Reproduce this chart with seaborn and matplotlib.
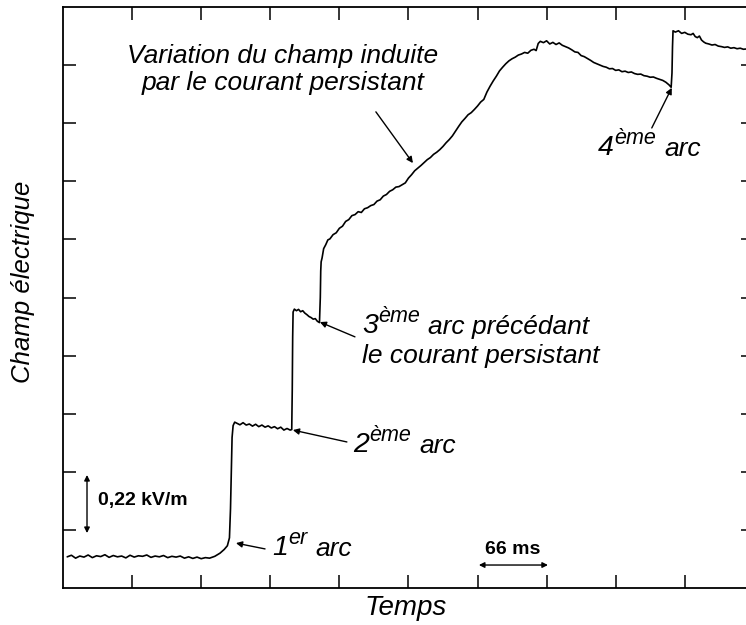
import matplotlib
matplotlib.use("Agg")
import matplotlib.pyplot as plt
import seaborn as sns
import numpy as np
import pandas as pd

# Enregistrement du champ électrique (temps en ms, champ en kV/m)
temps_ms = [
    4, 8, 12, 16, 20, 24, 28, 32, 36, 40, 44, 48, 52, 56, 60, 64, 68, 72, 76, 80,
    84, 88, 92, 96, 100, 104, 108, 112, 116, 120, 124, 128, 132, 136, 140,
    145, 150, 154, 157, 159, 160, 160.8, 161.5, 162.5, 164,
    166, 169, 172, 175, 178, 181, 184, 187, 190, 193, 196, 199, 202, 205, 208,
    211, 214, 217, 218.5,
    219, 219.4, 219.8, 221, 223, 225, 227, 229, 231, 233, 235, 237, 239, 241,
    243, 245,
    245.8, 246.2, 246.6, 247.5, 249, 251, 253, 255, 258, 261, 264, 267, 270,
    273, 276, 279, 282, 285, 288, 291, 294, 297, 300, 303, 306, 309, 312, 315,
    318, 321, 324, 327, 330, 333, 336, 339, 342, 345, 348, 351, 354, 357, 360,
    363, 366, 369, 372, 375, 378, 381, 384, 387, 390, 393, 396, 399, 402, 405,
    408, 411, 414, 417, 420, 423, 426, 429, 432, 435, 438, 441, 444, 447, 450,
    452, 454, 456, 459, 462, 465, 468, 471, 474, 477, 480, 483, 486, 489, 492,
    495, 498, 501, 504, 507, 510, 513, 516, 519, 522, 525, 528, 531, 534, 537,
    540, 543, 546, 549, 552, 555, 558, 561, 564, 567, 570, 573, 576, 579, 581,
    581.8, 582.3, 582.8, 585, 588, 591, 594, 597, 600, 602, 604, 606, 608, 610,
    612, 614, 617, 620, 623, 626, 629, 632, 635, 638, 641, 644, 647, 650, 653,
]
champ_kvm = [
    0.118, 0.124, 0.113, 0.121, 0.117, 0.125, 0.115, 0.122, 0.119, 0.126,
    0.116, 0.123, 0.118, 0.121, 0.114, 0.124, 0.117, 0.122, 0.120, 0.125,
    0.116, 0.121, 0.118, 0.123, 0.115, 0.120, 0.117, 0.121, 0.113, 0.118,
    0.112, 0.117, 0.111, 0.115, 0.113,
    0.120, 0.132, 0.146, 0.160, 0.190, 0.300, 0.450, 0.570, 0.615, 0.628,
    0.624, 0.618, 0.626, 0.617, 0.621, 0.613, 0.620, 0.611, 0.617, 0.609,
    0.614, 0.606, 0.611, 0.603, 0.609, 0.598, 0.604, 0.598, 0.600,
    0.750, 0.950, 1.045, 1.056, 1.050, 1.055, 1.046, 1.050, 1.041, 1.035,
    1.028, 1.024, 1.018, 1.020, 1.010, 1.005,
    1.100, 1.200, 1.235, 1.250, 1.285, 1.300, 1.318, 1.322, 1.338, 1.345,
    1.362, 1.370, 1.388, 1.395, 1.410, 1.414, 1.425, 1.422, 1.436, 1.440,
    1.448, 1.452, 1.465, 1.470, 1.484, 1.490, 1.502, 1.508, 1.518, 1.520,
    1.527, 1.534, 1.552, 1.565, 1.580, 1.590, 1.600, 1.611, 1.622, 1.630,
    1.642, 1.650, 1.660, 1.672, 1.686, 1.698, 1.712, 1.730, 1.748, 1.765,
    1.778, 1.792, 1.800, 1.812, 1.825, 1.840, 1.850, 1.878, 1.900, 1.920,
    1.938, 1.958, 1.972, 1.985, 1.996, 2.004, 2.010, 2.018, 2.022, 2.028,
    2.025, 2.036, 2.040, 2.035, 2.062, 2.070, 2.065, 2.072, 2.060, 2.066,
    2.058, 2.064, 2.055, 2.050, 2.045, 2.038, 2.030, 2.028, 2.016, 2.012,
    2.005, 1.998, 1.990, 1.985, 1.980, 1.975, 1.972, 1.966, 1.967, 1.960,
    1.962, 1.955, 1.957, 1.952, 1.954, 1.948, 1.945, 1.946, 1.940, 1.938,
    1.934, 1.935, 1.930, 1.926, 1.922, 1.915, 1.905, 1.896,
    1.950, 2.050, 2.110, 2.105, 2.110, 2.100, 2.104, 2.097, 2.095, 2.100,
    2.088, 2.084, 2.090, 2.075, 2.068, 2.063, 2.060, 2.056, 2.058, 2.052,
    2.050, 2.047, 2.049, 2.044, 2.046, 2.042, 2.044, 2.040, 2.041,
]

pas_temps = 66      # ms par graduation
pas_champ = 0.22    # kV/m par graduation

sns.set_theme(style="ticks")
plt.rcParams["font.family"] = ["Liberation Sans", "DejaVu Sans"]
plt.rcParams["text.color"] = "black"
plt.rcParams["axes.labelcolor"] = "black"

fig = plt.figure(figsize=(7.46, 6.25), dpi=100)
ax = fig.add_axes([0.0845, 0.0592, 0.926, 0.9296])

df = pd.DataFrame({"t": temps_ms, "E": champ_kvm})
sns.lineplot(data=df, x="t", y="E", color="black", linewidth=1.2, ax=ax,
             sort=False, estimator=None)

ax.set_xlim(0, 10 * pas_temps)
ax.set_ylim(0, 10 * pas_champ)
ax.set_xticks(np.arange(1, 10) * pas_temps)
ax.set_yticks(np.arange(1, 10) * pas_champ)
ax.tick_params(direction="in", length=9.5, width=1.1, color="black",
               top=True, right=True, labelleft=False, labelbottom=False)
for s in ax.spines.values():
    s.set_linewidth(1.3)
    s.set_color("black")

ax.set_xlabel("Temps", fontsize=20, style="italic")
ax.set_ylabel("Champ électrique", fontsize=18.5, style="italic")
ax.xaxis.set_label_coords(0.496, -0.034)
ax.xaxis.label.set_verticalalignment("center")
ax.yaxis.set_label_coords(-0.058, 0.5275)
ax.yaxis.label.set_verticalalignment("center")

fleche = dict(arrowstyle="-|>", color="black", lw=1.0, mutation_scale=9,
              shrinkA=0, shrinkB=0)
fs = 19


def etiquette(x, y, num, sup, suite):
    # numéro, exposant puis texte sur la même ligne de base
    t1 = ax.text(x, y, num, fontsize=20.5, style="italic",
                 ha="left", va="baseline")
    t2 = ax.annotate(sup, xy=(1, 0), xycoords=t1, xytext=(0.5, 8.5),
                     textcoords="offset points", fontsize=15.5, style="italic",
                     ha="left", va="bottom")
    ax.annotate(suite, xy=(1, 0), xycoords=t2, xytext=(5.5, -8.8),
                textcoords="offset points", fontsize=fs, style="italic",
                ha="left", va="bottom")


# annotations des arcs
ax.annotate("", xy=(165.2, 0.170), xytext=(193, 0.148), arrowprops=fleche)
etiquette(199.6, 0.125, "1", "er", "arc")

ax.annotate("", xy=(219.6, 0.598), xytext=(271.2, 0.553), arrowprops=fleche)
etiquette(277, 0.515, "2", "ème", "arc")

ax.annotate("", xy=(245.4, 1.007), xytext=(278.9, 0.951), arrowprops=fleche)
etiquette(285.5, 0.966, "3", "ème", "arc précédant")
ax.text(285.5, 0.852, "le courant persistant", fontsize=fs, style="italic",
        ha="left", va="baseline")

ax.annotate("", xy=(581.6, 1.894), xytext=(562.5, 1.742), arrowprops=fleche)
etiquette(511, 1.640, "4", "ème", "arc")

ax.annotate("", xy=(334.3, 1.609), xytext=(298.9, 1.803), arrowprops=fleche)
ax.text(210, 1.988, "Variation du champ induite", fontsize=fs,
        style="italic", ha="center", va="baseline")
ax.text(210, 1.886, "par le courant persistant", fontsize=fs,
        style="italic", ha="center", va="baseline")

# échelles
double = dict(arrowstyle="<|-|>", color="black", lw=1.0, mutation_scale=8,
              shrinkA=0, shrinkB=0)
ax.annotate("", xy=(22.9, 0.208), xytext=(22.9, 0.208 + pas_champ),
            arrowprops=double)
ax.text(33.4, 0.333, "0,22 kV/m", fontsize=14, fontweight="bold",
        ha="left", va="center")
ax.annotate("", xy=(397.3, 0.087), xytext=(397.3 + pas_temps, 0.087),
            arrowprops=double)
ax.text(429.8, 0.144, "66 ms", fontsize=14, fontweight="bold",
        ha="center", va="center")

fig.savefig("out.png", dpi=100)
